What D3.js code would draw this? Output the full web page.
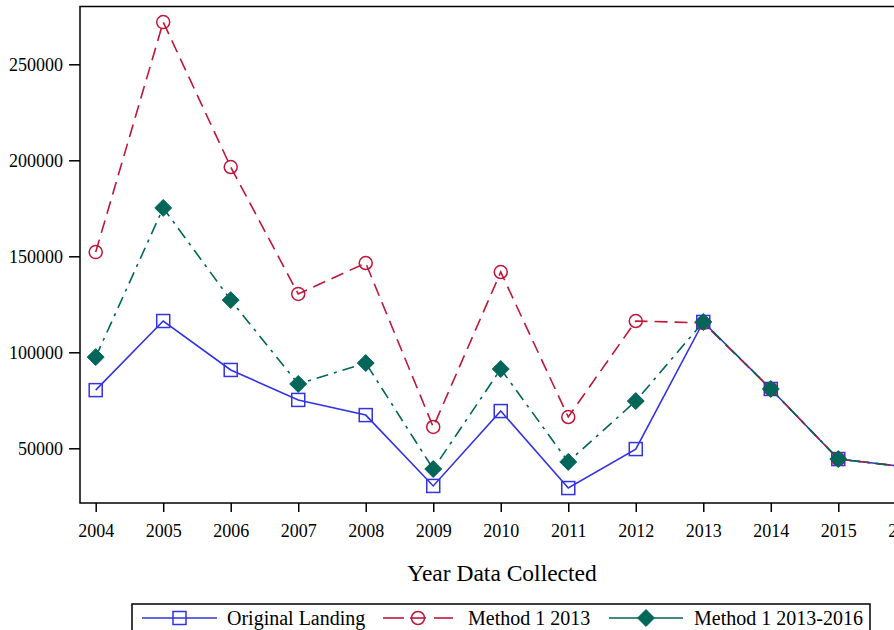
<!DOCTYPE html>
<html><head><meta charset="utf-8">
<script src="https://cdn.jsdelivr.net/npm/d3@7"></script>
<style>html,body{margin:0;padding:0;background:#fff;overflow:hidden}svg{display:block}
svg text{font-family:'Liberation Serif','Times New Roman',serif}</style>
</head><body>
<svg id="c" width="894" height="630"></svg>
<script>
const years = [2004,2005,2006,2007,2008,2009,2010,2011,2012,2013,2014,2015,2016];
const originalLanding = [80300,116300,90800,75200,67300,30400,69400,29300,49600,115800,80900,44400,40300];
const method2013 = [152200,272000,196500,130400,146500,61100,141800,66300,116300,115300,80900,44400,40300];
const method20132016 = [97500,175200,127200,83500,94400,39200,91300,42900,74600,115800,80900,44400,40300];
const yTicks = [50000,100000,150000,200000,250000];
const seriesNames = ["Original Landing","Method 1 2013","Method 1 2013-2016"];
const xTitle = "Year Data Collected";

const svg = d3.select("#c");
const font = "'Liberation Serif','Times New Roman',serif";
const L = 80, T = 6.5, B = 503, R = 921.5;
const x = d3.scalePoint().domain(years).range([95.7, 905.8]);
const y = d3.scaleLinear().domain([0, 50000]).range([544.3, 448.3]);

const colors = ["#3232e6","#c0163a","#00665a"];
const dashes = [null, "13,7", "12,6,3,6"];
const data = [originalLanding, method2013, method20132016];

// frame
svg.append("rect").attr("x",L).attr("y",T).attr("width",R-L).attr("height",B-T)
  .attr("fill","none").attr("stroke","#000").attr("stroke-width",1.5);

// y axis
const ya = svg.append("g").attr("transform",`translate(${L},0)`)
  .call(d3.axisLeft(y).tickValues(yTicks).tickSize(11).tickPadding(6).tickFormat(d3.format("d")))
  .attr("font-family",font).attr("font-size",18);
ya.select(".domain").remove();
ya.selectAll("line").attr("stroke","#000").attr("stroke-width",1.5);
ya.selectAll("text").attr("fill","#000").attr("dy","0.35em");

// x axis
const xa = svg.append("g").attr("transform",`translate(0,${B})`)
  .call(d3.axisBottom(x).tickSize(9).tickPadding(12).tickFormat(d3.format("d")))
  .attr("font-family",font).attr("font-size",18);
xa.select(".domain").remove();
xa.selectAll("line").attr("stroke","#000").attr("stroke-width",1.5);
xa.selectAll("text").attr("fill","#000");

svg.append("text").attr("x",502).attr("y",581).attr("text-anchor","middle")
  .attr("font-family",font).attr("font-size",23.5).attr("fill","#000").text(xTitle);

const line = d3.line().x((d,i)=>x(years[i])).y(d=>y(d));

function marker(g, k, cx, cy, s) {
  if (k===0) g.append("rect").attr("x",cx-s).attr("y",cy-s).attr("width",2*s).attr("height",2*s)
      .attr("fill","none").attr("stroke",colors[0]).attr("stroke-width",1.5);
  else if (k===1) g.append("circle").attr("cx",cx).attr("cy",cy).attr("r",s)
      .attr("fill","none").attr("stroke",colors[1]).attr("stroke-width",1.5);
  else g.append("path").attr("d",`M${cx},${cy-s*1.3}L${cx+s*1.3},${cy}L${cx},${cy+s*1.3}L${cx-s*1.3},${cy}Z`)
      .attr("fill",colors[2]).attr("stroke",colors[2]).attr("stroke-width",1);
}

const plot = svg.append("g");
data.forEach((vals,k)=>{
  const g = plot.append("g");
  g.append("path").datum(vals).attr("d",line).attr("fill","none")
    .attr("stroke",colors[k]).attr("stroke-width",1.6)
    .attr("stroke-dasharray",dashes[k]);
  vals.forEach((v,i)=>marker(g,k,x(years[i]),y(v),6.5));
});

// legend
const lg = svg.append("g");
lg.append("rect").attr("x",132).attr("y",604).attr("width",738).attr("height",40)
  .attr("fill","#fff").attr("stroke","#000").attr("stroke-width",1.5);
const items = [{x0:142,x1:217,tx:227},{x0:383,x1:453,tx:468},{x0:609,x1:683,tx:694}];
items.forEach((it,k)=>{
  const cy = 618, cx = (it.x0+it.x1)/2;
  if (k===1) {
    lg.append("line").attr("x1",it.x0).attr("x2",it.x0+21).attr("y1",cy).attr("y2",cy)
      .attr("stroke",colors[k]).attr("stroke-width",1.6);
    lg.append("line").attr("x1",it.x1-19).attr("x2",it.x1).attr("y1",cy).attr("y2",cy)
      .attr("stroke",colors[k]).attr("stroke-width",1.6);
    lg.append("line").attr("x1",cx-8).attr("x2",cx+8).attr("y1",cy).attr("y2",cy)
      .attr("stroke",colors[k]).attr("stroke-width",1.6);
  } else {
    lg.append("line").attr("x1",it.x0).attr("x2",it.x1).attr("y1",cy).attr("y2",cy)
      .attr("stroke",colors[k]).attr("stroke-width",1.6);
  }
  marker(lg,k,cx,cy,6.5);
  lg.append("text").attr("x",it.tx).attr("y",cy+7).attr("font-family",font).attr("font-size",20)
    .attr("fill","#000").text(seriesNames[k]);
});
</script>
</body></html>
